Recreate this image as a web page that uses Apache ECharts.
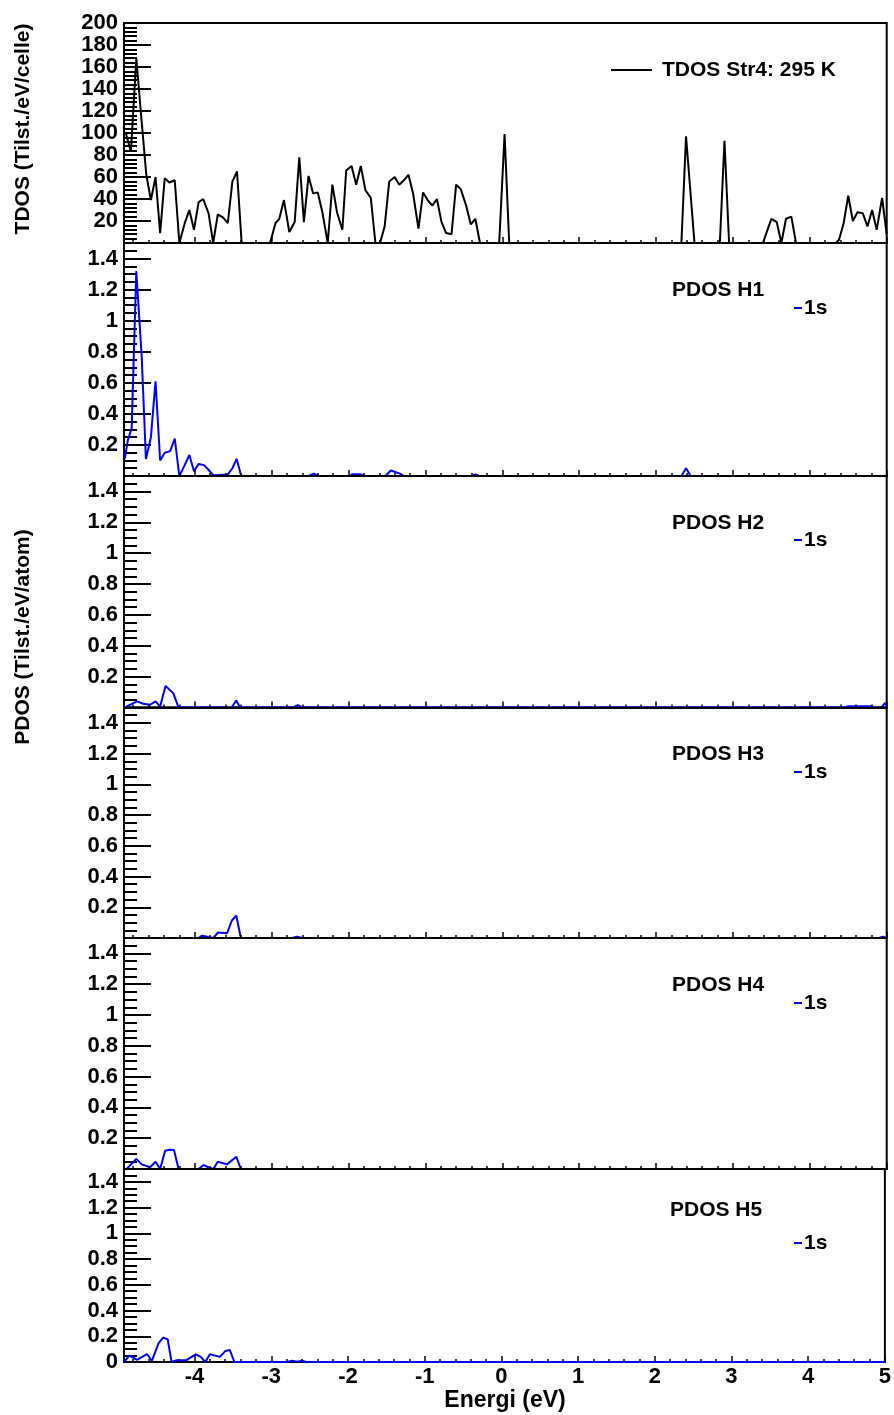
<!DOCTYPE html>
<html>
<head>
<meta charset="utf-8">
<title>TDOS / PDOS Str4</title>
<script src="https://cdn.jsdelivr.net/npm/echarts@6/dist/echarts.min.js"></script>
<style>
  html, body { margin: 0; padding: 0; background: #fff; }
  #chart { width: 894px; height: 1415px; }
</style>
</head>
<body>
<div id="chart"></div>
<script>
// energi (eV), verdi -- lest av figuren
const tdos = [
  [-4.90, 101], [-4.83, 83], [-4.76, 168], [-4.70, 118], [-4.63, 62], [-4.57, 39], [-4.51, 60],
  [-4.45, 9], [-4.39, 59], [-4.33, 55], [-4.26, 57], [-4.20, 0], [-4.13, 18], [-4.07, 30],
  [-4.01, 12], [-3.95, 37], [-3.89, 40], [-3.82, 27], [-3.76, 0], [-3.70, 26], [-3.63, 23],
  [-3.57, 18], [-3.51, 56], [-3.45, 65], [-3.39, 0], [-3.02, 0], [-2.95, 18], [-2.90, 22],
  [-2.84, 39], [-2.77, 10], [-2.70, 19], [-2.64, 78], [-2.58, 19], [-2.52, 61], [-2.46, 45],
  [-2.40, 46], [-2.34, 28], [-2.27, 0], [-2.21, 53], [-2.15, 28], [-2.08, 12], [-2.03, 66],
  [-1.96, 70], [-1.90, 53], [-1.84, 70], [-1.78, 48], [-1.71, 41], [-1.65, 0], [-1.59, 0],
  [-1.53, 15], [-1.47, 56], [-1.40, 60], [-1.34, 53], [-1.28, 57], [-1.22, 62], [-1.16, 45],
  [-1.09, 13], [-1.03, 46], [-0.97, 39], [-0.91, 34], [-0.85, 40], [-0.79, 19], [-0.73, 9],
  [-0.66, 8], [-0.60, 53], [-0.54, 49], [-0.47, 34], [-0.41, 17], [-0.35, 22], [-0.29, 0],
  [-0.04, 0], [0.03, 99], [0.09, 0], [2.33, 0], [2.39, 97], [2.50, 0], [2.83, 0], [2.89, 93],
  [2.95, 0], [3.39, 0], [3.50, 22], [3.57, 19], [3.63, 0], [3.69, 22], [3.76, 24], [3.82, 0],
  [4.34, 0], [4.38, 3], [4.44, 18], [4.50, 43], [4.56, 20], [4.62, 28], [4.69, 27], [4.75, 15],
  [4.81, 30], [4.87, 12], [4.94, 41], [5.00, 8]
];
const pdosH1 = [
  [-4.91, 0.11], [-4.87, 0.23], [-4.82, 0.31], [-4.76, 1.32], [-4.69, 0.77], [-4.635, 0.11],
  [-4.57, 0.25], [-4.51, 0.61], [-4.45, 0.10], [-4.39, 0.15], [-4.32, 0.16], [-4.26, 0.24],
  [-4.20, 0], [-4.14, 0.06], [-4.07, 0.135], [-4.01, 0.03], [-3.95, 0.077], [-3.88, 0.07],
  [-3.82, 0.04], [-3.76, 0.005], [-3.57, 0.01], [-3.51, 0.05], [-3.455, 0.11], [-3.395, 0],
  [-2.52, 0], [-2.45, 0.015], [-2.39, 0], [-1.98, 0], [-1.95, 0.012], [-1.85, 0.012], [-1.80, 0],
  [-1.52, 0], [-1.45, 0.035], [-1.33, 0.015], [-1.28, 0], [-0.40, 0], [-0.35, 0.01], [-0.30, 0],
  [2.33, 0], [2.39, 0.05], [2.45, 0], [5.00, 0]
];
const pdosH2 = [
  [-4.92, 0], [-4.89, 0.006], [-4.75, 0.04], [-4.67, 0.024], [-4.58, 0.018], [-4.51, 0.04],
  [-4.45, 0.006], [-4.38, 0.14], [-4.28, 0.093], [-4.21, 0], [-3.52, 0], [-3.46, 0.045],
  [-3.41, 0], [-2.72, 0], [-2.66, 0.015], [-2.60, 0], [4.45, 0], [4.50, 0.008], [4.80, 0.008],
  [4.86, 0], [4.93, 0], [4.98, 0.03], [5.00, 0.01]
];
const pdosH3 = [
  [-4.92, 0], [-3.95, 0], [-3.906, 0.015], [-3.82, 0.006], [-3.757, 0], [-3.70, 0.035],
  [-3.58, 0.031], [-3.517, 0.114], [-3.46, 0.146], [-3.40, 0], [-2.73, 0], [-2.67, 0.008],
  [-2.60, 0], [4.90, 0], [4.95, 0.008], [5.00, 0]
];
const pdosH4 = [
  [-4.92, 0], [-4.886, 0], [-4.76, 0.066], [-4.69, 0.03], [-4.58, 0.011], [-4.51, 0.047],
  [-4.45, 0], [-4.385, 0.118], [-4.33, 0.125], [-4.27, 0.123], [-4.21, 0], [-3.95, 0],
  [-3.885, 0.026], [-3.82, 0.01], [-3.757, 0], [-3.70, 0.047], [-3.58, 0.03], [-3.46, 0.08],
  [-3.40, 0], [5.00, 0]
];
const pdosH5 = [
  [-4.92, 0], [-4.905, 0.008], [-4.85, 0.05], [-4.75, 0.016], [-4.62, 0.062], [-4.557, 0.008],
  [-4.47, 0.145], [-4.41, 0.19], [-4.35, 0.176], [-4.30, 0], [-4.24, 0.013], [-4.11, 0.013],
  [-3.985, 0.06], [-3.92, 0.04], [-3.86, 0], [-3.80, 0.06], [-3.67, 0.04], [-3.60, 0.085],
  [-3.54, 0.093], [-3.48, 0], [-2.79, 0], [-2.73, 0.01], [-2.66, 0.003], [-2.60, 0.01],
  [-2.54, 0], [5.00, 0]
];
const pdosSets = [pdosH1, pdosH2, pdosH3, pdosH4, pdosH5];
const pdosNames = ['PDOS H1', 'PDOS H2', 'PDOS H3', 'PDOS H4', 'PDOS H5'];
const orbitalName = '1s';
const tdosName = 'TDOS Str4: 295 K';

const E_MIN = -4.92;
const E_MAX = 5;
const FONT = 'Liberation Sans';

const chart = echarts.init(document.getElementById('chart'));

// panel-oppsett (px): topp og høyde
const panels = [
  { top: 23, height: 220 },
  { top: 243, height: 233 },
  { top: 476, height: 231.5 },
  { top: 707.5, height: 230.5 },
  { top: 938, height: 231 },
  { top: 1169, height: 193 }
];
const left = 124;
const plotWidth = 762.7;

const grids = [];
const xAxes = [];
const yAxes = [];
const series = [];
const labelStyle = { color: '#000', fontSize: 22, fontWeight: 'bold', fontFamily: FONT };

panels.forEach((p, i) => {
  const isTop = i === 0;
  const isLast = i === panels.length - 1;
  grids.push({
    left: left, top: p.top, width: plotWidth, height: p.height,
    show: true, borderColor: '#000', borderWidth: 2, backgroundColor: 'transparent'
  });
  // hovedmerker + tall
  xAxes.push({
    type: 'value', gridIndex: i, min: E_MIN, max: E_MAX, splitNumber: 10, position: 'bottom', z: 3,
    axisLine: { show: true, onZero: false, lineStyle: { color: '#000', width: 2 } },
    axisTick: { show: true, inside: true, length: 6, lineStyle: { color: '#000', width: 1.5 } },
    axisLabel: Object.assign({ show: isLast, showMinLabel: false, margin: 4 }, labelStyle),
    splitLine: { show: false }
  });
  // småmerker (0.2 eV)
  xAxes.push({
    type: 'value', gridIndex: i, min: E_MIN, max: E_MAX, splitNumber: 50, position: 'bottom', z: 3,
    axisLine: { show: false, onZero: false },
    axisTick: { show: true, inside: true, length: 3, lineStyle: { color: '#000', width: 1.5 } },
    axisLabel: { show: false },
    splitLine: { show: false }
  });
  const yMax = isTop ? 200 : 1.5;
  yAxes.push({
    type: 'value', gridIndex: i, min: 0, max: yMax, interval: isTop ? 20 : 0.2, position: 'left',
    axisLine: { show: true, onZero: false, lineStyle: { color: '#000', width: 2 } },
    axisTick: { show: true, inside: true, length: 27, lineStyle: { color: '#000', width: 2 } },
    axisLabel: Object.assign({ showMinLabel: isLast, showMaxLabel: isTop, margin: 6 }, labelStyle),
    splitLine: { show: false }
  });
  yAxes.push({
    type: 'value', gridIndex: i, min: 0, max: yMax, interval: isTop ? 4 : 0.05, position: 'left',
    axisLine: { show: false, onZero: false },
    axisTick: { show: true, inside: true, length: 13, lineStyle: { color: '#000', width: 2 } },
    axisLabel: { show: false },
    splitLine: { show: false }
  });
  series.push({
    type: 'line',
    name: isTop ? tdosName : orbitalName,
    xAxisIndex: 2 * i, yAxisIndex: 2 * i,
    data: isTop ? tdos : pdosSets[i - 1],
    showSymbol: false, symbol: 'none',
    z: isLast ? 4 : 2,
    lineStyle: { color: isTop ? '#000' : '#0000ff', width: 2 }
  });
});

const textStyle = (txt, size, align) => ({
  text: txt, fill: '#000',
  font: 'bold ' + size + 'px "' + FONT + '"',
  align: align, verticalAlign: 'middle',
  textAlign: align, textVerticalAlign: 'middle'
});

const graphics = [
  { type: 'text', x: 23, y: 129, rotation: Math.PI / 2, style: textStyle('TDOS (Tilst./eV/celle)', 21, 'center') },
  { type: 'text', x: 23, y: 637, rotation: Math.PI / 2, style: textStyle('PDOS (Tilst./eV/atom)', 21, 'center') },
  { type: 'text', x: 505, y: 1401, style: textStyle('Energi (eV)', 23, 'center') },
  { type: 'line', shape: { x1: 611, y1: 70, x2: 652, y2: 70 }, style: { stroke: '#000', lineWidth: 2 } },
  { type: 'text', x: 662, y: 70, style: textStyle(tdosName, 21, 'left') }
];
// forklaringer for PDOS-panelene
const headerY = [290, 523, 754, 985, 1210];
const entryY = [308, 540, 772, 1003, 1243];
pdosNames.forEach((name, k) => {
  graphics.push({ type: 'text', x: k === 4 ? 670 : 672, y: headerY[k], style: textStyle(name, 21, 'left') });
  graphics.push({ type: 'line', shape: { x1: 794, y1: entryY[k], x2: 802, y2: entryY[k] }, style: { stroke: '#0000ff', lineWidth: 2 } });
  graphics.push({ type: 'text', x: 804, y: entryY[k], style: textStyle(orbitalName, 21, 'left') });
});

chart.setOption({
  animation: false,
  grid: grids,
  xAxis: xAxes,
  yAxis: yAxes,
  series: series,
  graphic: graphics
});
</script>
</body>
</html>
